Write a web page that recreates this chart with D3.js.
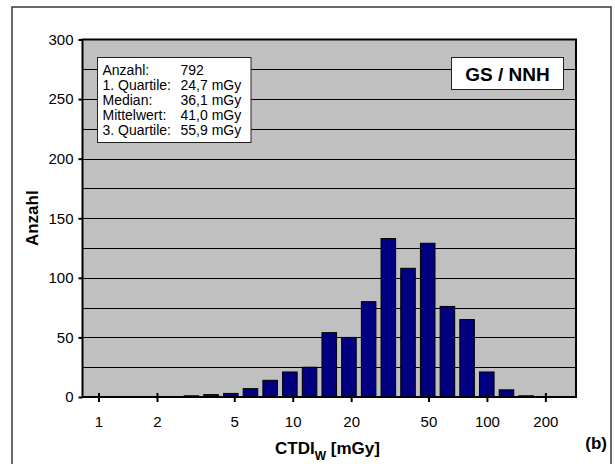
<!DOCTYPE html>
<html>
<head>
<meta charset="utf-8">
<script src="https://cdn.jsdelivr.net/npm/d3@7"></script>
<style>
  html, body { margin: 0; padding: 0; background: #fff; }
  svg { display: block; font-family: "Liberation Sans", Arial, sans-serif; }
</style>
</head>
<body>
<svg id="chart" width="615" height="464"></svg>
<script>
// Histogram bins (logarithmic, 10 bins per decade), bin centre in mGy
const binCenters = ["1,00","1,26","1,58","2,00","2,51","3,16","3,98","5,01","6,31","7,94",
                    "10,0","12,6","15,8","20,0","25,1","31,6","39,8","50,1","63,1","79,4",
                    "100","126","158","200","251"];
const counts = [0,0,0,0,0,1,2,3,7,14,
                21,25,54,50,80,133,108,129,76,65,
                21,6,1,0,0];
const xTickValues = [1, 2, 5, 10, 20, 50, 100, 200];
const yTickValues = [0, 50, 100, 150, 200, 250, 300];
const yGridValues = [25, 50, 75, 100, 125, 150, 175, 200, 225, 250, 275];
const statLabels = ["Anzahl:", "1. Quartile:", "Median:", "Mittelwert:", "3. Quartile:"];
const statValues = ["792", "24,7 mGy", "36,1 mGy", "41,0 mGy", "55,9 mGy"];
const tagText = "GS / NNH";
const panelLabel = "(b)";

const svg = d3.select("#chart");
const plot = { left: 82.5, right: 576, top: 39.5, bottom: 397 };

// outer frame
svg.append("rect")
  .attr("x", 12).attr("y", 7).attr("width", 599).attr("height", 480)
  .attr("fill", "#fff").attr("stroke", "#3a3a3a").attr("stroke-width", 1.5);

const y = d3.scaleLinear().domain([0, 300]).range([plot.bottom, plot.top]);
const xBand = d3.scaleBand().domain(binCenters).range([plot.left, plot.right])
  .paddingInner(0.21).paddingOuter(0.135);
const xLog = d3.scaleLog().domain([0.827, 287.6]).range([plot.left, plot.right]);

// plot background
svg.append("rect")
  .attr("x", plot.left).attr("y", plot.top)
  .attr("width", plot.right - plot.left).attr("height", plot.bottom - plot.top)
  .attr("fill", "#c0c0c0");

// gridlines
svg.append("g").selectAll("line").data(yGridValues).join("line")
  .attr("x1", plot.left).attr("x2", plot.right)
  .attr("y1", d => Math.round(y(d)) + 0.5).attr("y2", d => Math.round(y(d)) + 0.5)
  .attr("stroke", "#000").attr("stroke-width", 1);

// bars
svg.append("g").selectAll("rect").data(counts.map((c, i) => ({ bin: binCenters[i], c })).filter(d => d.c > 0))
  .join("rect")
  .attr("x", d => xBand(d.bin) + 0.5)
  .attr("width", xBand.bandwidth() - 1)
  .attr("y", d => y(d.c))
  .attr("height", d => plot.bottom - y(d.c))
  .attr("fill", "#000080").attr("stroke", "#000").attr("stroke-width", 1);

// plot border
svg.append("rect")
  .attr("x", plot.left).attr("y", plot.top)
  .attr("width", plot.right - plot.left).attr("height", plot.bottom - plot.top)
  .attr("fill", "none").attr("stroke", "#000").attr("stroke-width", 2);

// y axis
const yAxis = d3.axisLeft(y).tickValues(yTickValues).tickSize(4).tickPadding(5);
const gy = svg.append("g").attr("transform", `translate(${plot.left},0)`).call(yAxis);
gy.select(".domain").remove();
gy.selectAll(".tick line").attr("stroke", "#000").attr("stroke-width", 2);
gy.selectAll(".tick text").attr("font-size", 15).attr("fill", "#000")
  .attr("font-family", "Liberation Sans, Arial, sans-serif");

// x axis (log)
const xAxis = d3.axisBottom(xLog).tickValues(xTickValues).tickFormat(d3.format("d"))
  .tickSize(5).tickPadding(14);
const gx = svg.append("g").attr("transform", `translate(0,${plot.bottom})`).call(xAxis);
gx.select(".domain").remove();
gx.selectAll(".tick line").attr("y1", -4).attr("stroke", "#000").attr("stroke-width", 2);
gx.selectAll(".tick text").attr("font-size", 15).attr("fill", "#000")
  .attr("font-family", "Liberation Sans, Arial, sans-serif");

// axis titles
svg.append("text")
  .attr("transform", `translate(38,${(plot.top + plot.bottom) / 2}) rotate(-90)`)
  .attr("text-anchor", "middle").attr("font-size", 17).attr("font-weight", "bold")
  .text("Anzahl");

const xt = svg.append("text")
  .attr("x", 275).attr("y", 454.3)
  .attr("font-size", 17).attr("font-weight", "bold");
xt.append("tspan").text("CTDI");
xt.append("tspan").attr("dy", 6).attr("font-size", 12).text("W");
xt.append("tspan").attr("dy", -6).text(" [mGy]");

svg.append("text")
  .attr("x", 607).attr("y", 448.5).attr("text-anchor", "end")
  .attr("font-size", 17).attr("font-weight", "bold").text(panelLabel);

// statistics box
const sb = svg.append("g");
sb.append("rect").attr("x", 97.5).attr("y", 57.5).attr("width", 153.5).attr("height", 85)
  .attr("fill", "#fff").attr("stroke", "#222").attr("stroke-width", 1);
sb.selectAll("text.l").data(statLabels).join("text").attr("class", "l")
  .attr("x", 102.5).attr("y", (d, i) => 74.5 + i * 15)
  .attr("font-size", 14).text(d => d);
sb.selectAll("text.v").data(statValues).join("text").attr("class", "v")
  .attr("x", 180.5).attr("y", (d, i) => 74.5 + i * 15)
  .attr("font-size", 14).text(d => d);

// tag box
svg.append("rect").attr("x", 451.5).attr("y", 57.5).attr("width", 112).attr("height", 32)
  .attr("fill", "#fff").attr("stroke", "#222").attr("stroke-width", 1);
svg.append("text").attr("x", 507.5).attr("y", 81).attr("text-anchor", "middle")
  .attr("font-size", 19).attr("font-weight", "bold").text(tagText);
</script>
</body>
</html>
